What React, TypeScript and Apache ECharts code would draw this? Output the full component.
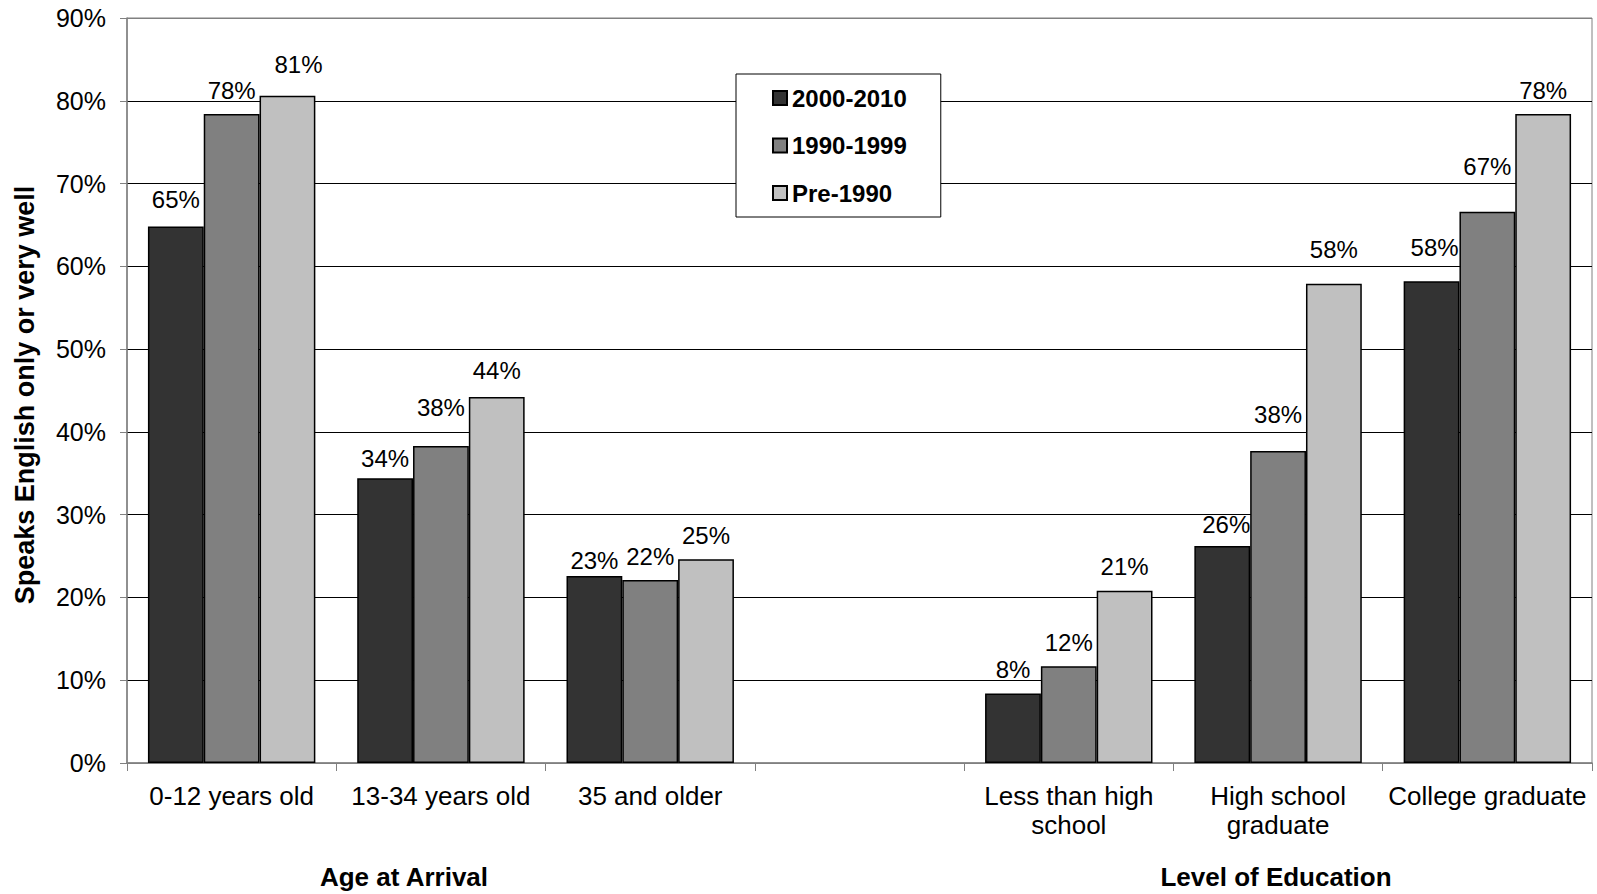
import React, { useEffect, useRef } from "react";
import * as echarts from "echarts";

// Categories along the x axis (the empty slot separates the two groups)
const categories = [
  "0-12 years old",
  "13-34 years old",
  "35 and older",
  "",
  "Less than high\nschool",
  "High school\ngraduate",
  "College graduate",
];

const seriesNames = ["2000-2010", "1990-1999", "Pre-1990"];

// Share speaking English only or very well, in percent
const values2000to2010 = [64.8, 34.4, 22.6, null, 8.4, 26.2, 58.2];
const values1990to1999 = [78.4, 38.3, 22.1, null, 11.7, 37.7, 66.6];
const valuesPre1990 = [80.6, 44.2, 24.6, null, 20.8, 57.9, 78.4];

const yTicks = [0, 10, 20, 30, 40, 50, 60, 70, 80, 90];

const groupTitles = ["Age at Arrival", "Level of Education"];

// Styling
const FONT = "'Liberation Sans', Arial, Helvetica, sans-serif";
const barColors = ["#333333", "#808080", "#c0c0c0"];

// Per-label nudges [dx, dy] in pixels for the value labels
const labelNudges: number[][][] = [
  [[0, -3], [0, 4.6], [0, 8.6], [0, 0], [0, 0], [4, 2.6], [3, -10]],
  [[0, 0], [0, -14], [0, 0], [0, 0], [0, 0], [0, -12.6], [0, -21.5]],
  [[11, -7.7], [0, -3], [0, 0], [0, 0], [0, 0], [0, -10], [0, 0]],
];

export default function App() {
  const ref = useRef<HTMLDivElement>(null);

  useEffect(() => {
    if (!ref.current) return;
    const chart = echarts.init(ref.current, null, { renderer: "svg" });

    const allValues = [values2000to2010, values1990to1999, valuesPre1990];

    const series = allValues.map((vals, si) => ({
      name: seriesNames[si],
      type: "bar" as const,
      barGap: "0%",
      barCategoryGap: "20%",
      itemStyle: {
        color: barColors[si],
        borderColor: "#000",
        borderWidth: 1.5,
      },
      label: {
        show: true,
        position: "top" as const,
        distance: 12,
        color: "#000",
        fontFamily: FONT,
        fontSize: 24,
        lineHeight: 24,
        formatter: (p: any) =>
          p.value == null ? "" : Math.round(p.value) + "%",
      },
      data: vals.map((v, ci) => ({
        value: v,
        label: { offset: labelNudges[si][ci] },
      })),
    }));

    const gridTop = 18;
    const gridBottomY = 763;
    const gridLeft = 127;
    const gridRight = 1592;

    const splitColors = yTicks.map((t, i) =>
      i === 0 || i === yTicks.length - 1 ? "#808080" : "#000000"
    );

    chart.setOption({
      animation: false,
      backgroundColor: "#ffffff",
      textStyle: { fontFamily: FONT },
      grid: {
        left: gridLeft,
        right: 1597 - gridRight,
        top: gridTop,
        bottom: 894 - gridBottomY,
        show: true,
        borderColor: "#808080",
        borderWidth: 1,
        backgroundColor: "transparent",
        containLabel: false,
      },
      legend: {
        orient: "vertical",
        left: 736,
        top: 74,
        padding: [12, 34, 12, 36],
        itemWidth: 14,
        itemHeight: 14,
        itemGap: 23.5,
        backgroundColor: "#ffffff",
        borderColor: "#000000",
        borderWidth: 1,
        icon: "rect",
        textStyle: {
          fontFamily: FONT,
          fontSize: 24,
          fontWeight: "bold",
          color: "#000",
          lineHeight: 24,
        },
        data: seriesNames,
      },
      xAxis: {
        type: "category",
        data: categories,
        axisLine: { show: true, lineStyle: { color: "#808080", width: 1.5 } },
        axisTick: {
          show: true,
          length: 8,
          lineStyle: { color: "#808080", width: 1 },
        },
        axisLabel: {
          interval: 0,
          color: "#000",
          fontFamily: FONT,
          fontSize: 26,
          lineHeight: 29,
          margin: 18,
        },
        splitLine: { show: false },
      },
      yAxis: {
        type: "value",
        min: 0,
        max: 90,
        interval: 10,
        axisLine: { show: true, lineStyle: { color: "#808080", width: 1.5 } },
        axisTick: {
          show: true,
          length: 7,
          lineStyle: { color: "#808080", width: 1 },
        },
        axisLabel: {
          color: "#000",
          fontFamily: FONT,
          fontSize: 25,
          margin: 21,
          formatter: (v: number) => v + "%",
        },
        splitLine: {
          show: true,
          lineStyle: { color: splitColors, width: 1 },
        },
      },
      graphic: [
        {
          type: "text",
          x: 25,
          y: 395,
          rotation: Math.PI / 2,
          style: {
            text: "Speaks English only or very well",
            fontFamily: FONT,
            fontSize: 27,
            fontWeight: "bold",
            fill: "#000",
            textAlign: "center",
            textVerticalAlign: "middle",
          },
        },
        {
          type: "text",
          x: 404,
          y: 877,
          style: {
            text: groupTitles[0],
            fontFamily: FONT,
            fontSize: 26,
            fontWeight: "bold",
            fill: "#000",
            textAlign: "center",
            textVerticalAlign: "middle",
          },
        },
        {
          type: "text",
          x: 1276,
          y: 877,
          style: {
            text: groupTitles[1],
            fontFamily: FONT,
            fontSize: 26,
            fontWeight: "bold",
            fill: "#000",
            textAlign: "center",
            textVerticalAlign: "middle",
          },
        },
      ],
      series,
    });

    return () => chart.dispose();
  }, []);

  return (
    <div
      ref={ref}
      style={{
        position: "fixed",
        left: 0,
        top: 0,
        width: "1597px",
        height: "894px",
      }}
    />
  );
}
